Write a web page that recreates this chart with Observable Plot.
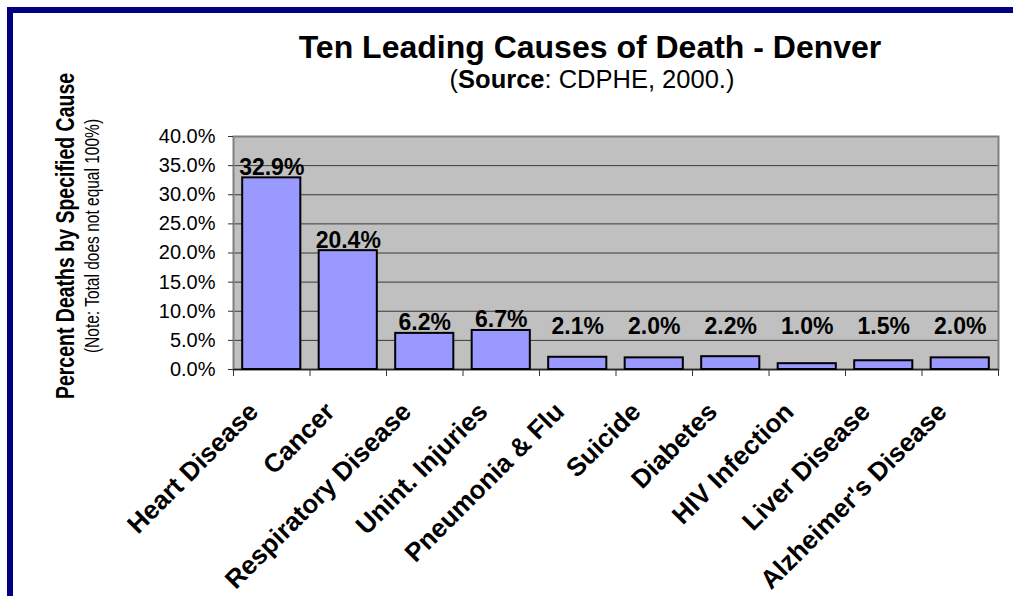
<!DOCTYPE html>
<html>
<head>
<meta charset="utf-8">
<script src="https://cdn.jsdelivr.net/npm/d3@7"></script>
<script src="https://cdn.jsdelivr.net/npm/@observablehq/plot@0.6"></script>
<style>
  html, body { margin: 0; padding: 0; background: #fff; }
  #wrap { position: relative; width: 1013px; height: 596px; overflow: hidden; font-family: "Liberation Sans", Arial, sans-serif; color: #000; }
  #border-top { position: absolute; left: 7px; top: 7px; width: 1006px; height: 6px; background: #000080; }
  #border-left { position: absolute; left: 7px; top: 7px; width: 6px; height: 589px; background: #000080; }
  #chart { position: absolute; left: 0; top: 0; }
  .title { position: absolute; left: 590px; top: 31px; transform: translateX(-50%); font-size: 32px; font-weight: bold; line-height: 1; white-space: nowrap; }
  .subtitle { position: absolute; left: 592px; top: 67px; transform: translateX(-50%); font-size: 25.5px; line-height: 1; white-space: nowrap; }
  .ytitle { position: absolute; left: 66px; top: 236px; transform: translate(-50%, -50%) rotate(-90deg) scaleY(1.35); font-size: 19.5px; font-weight: bold; line-height: 1; white-space: nowrap; }
  .ynote { position: absolute; left: 92px; top: 236px; transform: translate(-50%, -50%) rotate(-90deg) scaleY(1.3); font-size: 15.5px; line-height: 1; white-space: nowrap; }
</style>
</head>
<body>
<div id="wrap">
  <div id="chart"></div>
  <div id="border-top"></div>
  <div id="border-left"></div>
  <div class="title">Ten Leading Causes of Death - Denver</div>
  <div class="subtitle">(<b>Source</b>: CDPHE, 2000.)</div>
  <div class="ytitle">Percent Deaths by Specified Cause</div>
  <div class="ynote">(Note: Total does not equal 100%)</div>
</div>
<script>
// ---- data ----
const categories = ["Heart Disease", "Cancer", "Respiratory Disease", "Unint. Injuries", "Pneumonia & Flu",
                    "Suicide", "Diabetes", "HIV Infection", "Liver Disease", "Alzheimer's Disease"];
const values = [32.9, 20.4, 6.2, 6.7, 2.1, 2.0, 2.2, 1.0, 1.5, 2.0];
const yTicks = [0, 5, 10, 15, 20, 25, 30, 35, 40];

// ---- layout ----
const W = 1013, H = 596;
const mL = 233, mR = 15, mT = 136, mB = 227;
const step = (W - mL - mR) / categories.length;

const data = categories.map((c, i) => ({cause: c, value: values[i]}));
const fmt = d => d.toFixed(1) + "%";

const chart = Plot.plot({
  width: W,
  height: H,
  marginLeft: mL,
  marginRight: mR,
  marginTop: mT,
  marginBottom: mB,
  style: {fontFamily: "'Liberation Sans', Arial, sans-serif", color: "#000", background: "transparent", overflow: "visible"},
  x: {domain: categories, paddingInner: 0.24, paddingOuter: 0.12, round: false, axis: null, label: null},
  y: {domain: [0, 40], axis: null, label: null},
  marks: [
    Plot.frame({fill: "#c0c0c0", stroke: "none"}),
    Plot.gridY(yTicks.filter(t => t > 0 && t < 40), {stroke: "#3a3a3a", strokeOpacity: 1, strokeWidth: 1}),
    Plot.frame({stroke: "#808080", strokeWidth: 2}),
    Plot.ruleY([0], {stroke: "#222", strokeWidth: 1.5}),
    Plot.barY(data, {x: "cause", y: "value", fill: "#9999ff", stroke: "#000", strokeWidth: 2}),
    Plot.text(data, {
      x: "cause",
      y: d => Math.max(d.value, 5.6),
      text: d => fmt(d.value),
      lineAnchor: "bottom",
      dy: -3,
      fontSize: 23,
      fontWeight: "bold",
      fill: "#000"
    }),
    Plot.axisY({ticks: yTicks, tickFormat: fmt, tickSize: 5, tickPadding: 13, fontSize: 20, stroke: "#333", label: null}),
    Plot.ruleX(categories, {x: d => d, dx: -step / 2, y1: () => 0, y2: () => 0, insetBottom: -7, stroke: "#333"}),
    Plot.ruleX(categories.slice(-1), {x: d => d, dx: step / 2, y1: () => 0, y2: () => 0, insetBottom: -7, stroke: "#333"}),
    Plot.axisX({tickSize: 0, tickRotate: -45, tickPadding: 38, dx: -18, fontSize: 26, fontWeight: "bold", fill: "#000", label: null})
  ]
});
document.getElementById("chart").appendChild(chart);
</script>
</body>
</html>
